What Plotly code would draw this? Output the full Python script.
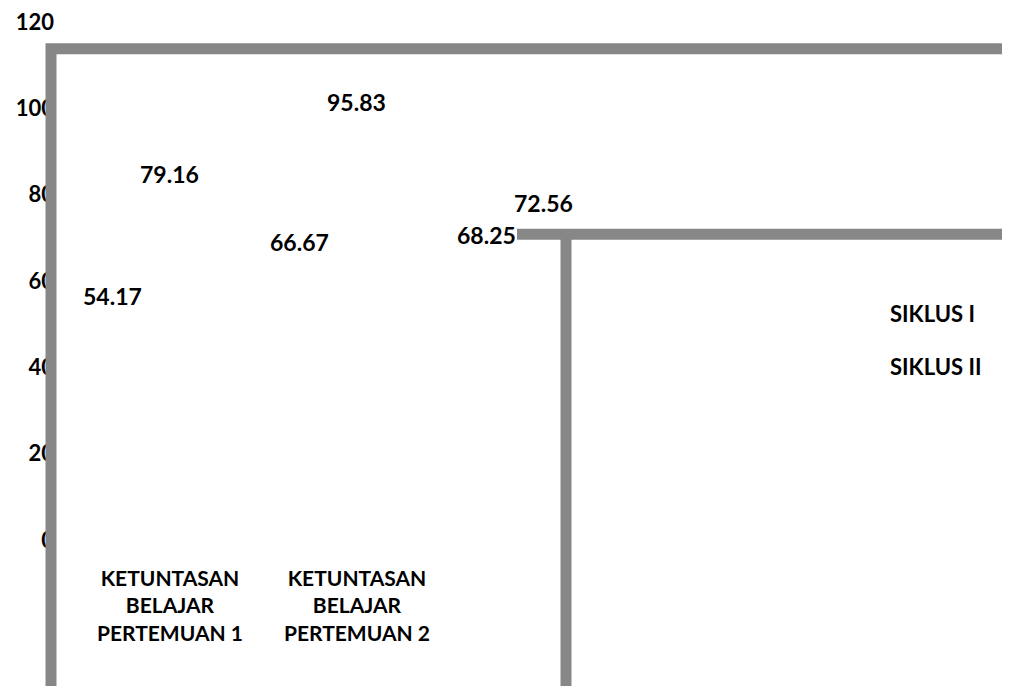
import plotly.graph_objects as go

categories = ["KETUNTASAN<br>BELAJAR<br>PERTEMUAN 1", "KETUNTASAN<br>BELAJAR<br>PERTEMUAN 2", ""]
series_names = ["SIKLUS I", "SIKLUS II"]
siklus1 = [54.17, 66.67, 68.25]
siklus2 = [79.16, 95.83, 72.56]
ytick_vals = [0, 20, 40, 60, 80, 100, 120]

FONT = "Lato, 'Open Sans', sans-serif"
GRAY = "#878787"
PAGE_OFF = 8  # default body margin of the html page

W, H = 1010, 686
ML, MB = 47, 130
plot_w = W - ML
plot_h = H - MB
px_per_cat = 187.0
x0 = -((141 - PAGE_OFF) - ML) / px_per_cat
x1 = x0 + plot_w / px_per_cat
px_per_unit = 520 / 120.0
zero_fig = 540 - PAGE_OFF
y0 = -(plot_h - zero_fig) / px_per_unit
y1 = zero_fig / px_per_unit

off = 0.155
xs = list(range(len(categories)))

fig = go.Figure()
for name, vals, sign, grp in [(series_names[0], siklus1, -1, "a"), (series_names[1], siklus2, 1, "b")]:
    fig.add_trace(go.Bar(
        x=[i + sign * off for i in xs], y=vals, name=name, width=0.28,
        marker=dict(color="rgba(255,255,255,0)", line=dict(width=0)),
        legendgroup=grp, hoverinfo="skip",
    ))

# data labels
for vals, sign, shift in [(siklus1, -1, 10), (siklus2, 1, 24)]:
    for i, v in zip(xs, vals):
        fig.add_annotation(x=i + sign * off, y=v, text=f"{v:.2f}", showarrow=False,
                           yshift=shift, font=dict(family=FONT, size=23, color="#000000", weight="bold"))

def px_to_paper_x(p):
    return (p - PAGE_OFF - ML) / plot_w

def py_to_paper_y(p):
    return (plot_h - (p - PAGE_OFF)) / plot_h

# gray frame lines (decorative)
path1 = (f"M {px_to_paper_x(51)},{py_to_paper_y(720)} L {px_to_paper_x(51)},{py_to_paper_y(47)} "
         f"L {px_to_paper_x(1040)},{py_to_paper_y(47)}")
fig.add_shape(type="path", path=path1, xref="paper", yref="paper",
              line=dict(color=GRAY, width=11), layer="above")
fig.add_shape(type="line", xref="paper", yref="paper",
              x0=px_to_paper_x(517), x1=px_to_paper_x(1040), y0=py_to_paper_y(233), y1=py_to_paper_y(233),
              line=dict(color=GRAY, width=11), layer="above")
fig.add_shape(type="line", xref="paper", yref="paper",
              x0=px_to_paper_x(566), x1=px_to_paper_x(566), y0=py_to_paper_y(233), y1=py_to_paper_y(720),
              line=dict(color=GRAY, width=11), layer="above")

fig.update_layout(
    width=W, height=H,
    margin=dict(l=ML, r=0, t=0, b=MB),
    paper_bgcolor="white", plot_bgcolor="white",
    barmode="overlay",
    font=dict(family=FONT, size=21, color="#000000"),
    xaxis=dict(range=[x0, x1], tickvals=[i + off for i in xs], ticktext=categories,
               showgrid=False, zeroline=False, showline=False, ticks="",
               ticklabeloverflow="allow",
               tickfont=dict(family=FONT, size=21, color="#000000", weight="bold")),
    yaxis=dict(range=[y0, y1], tickvals=ytick_vals, showgrid=False, zeroline=False,
               showline=False, ticks="", ticklabeloverflow="allow",
               tickfont=dict(family=FONT, size=22, color="#000000", weight="bold")),
    legend=dict(x=px_to_paper_x(850), y=py_to_paper_y(292), xanchor="left", yanchor="top",
                tracegroupgap=21, bgcolor="rgba(0,0,0,0)",
                font=dict(family=FONT, size=22, color="#000000", weight="bold")),
    showlegend=True,
)

fig.write_html("out.html")
